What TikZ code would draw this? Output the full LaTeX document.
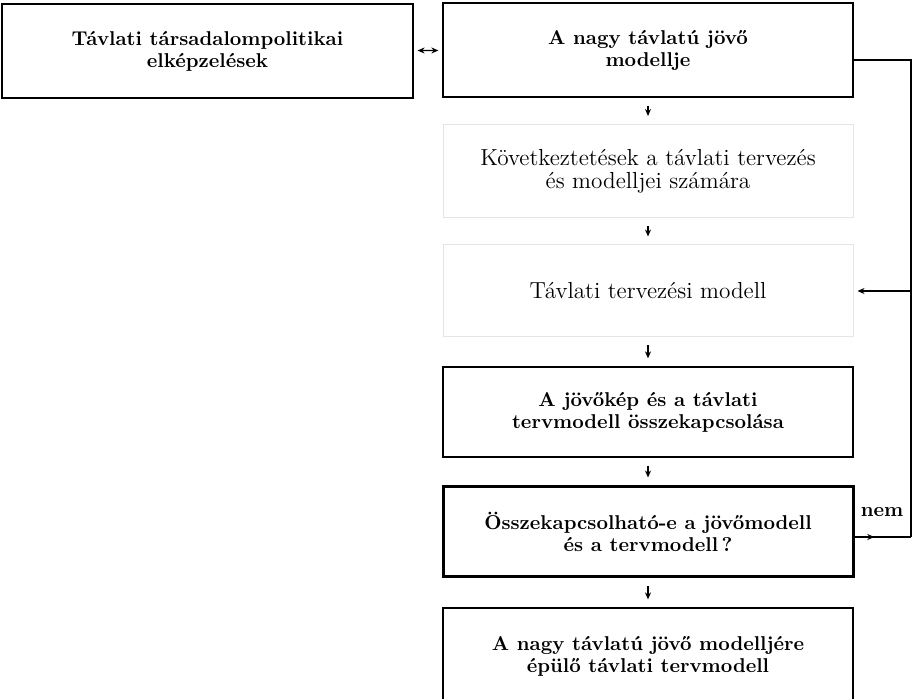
\documentclass[tikz,border=0pt]{standalone}
\usepackage{fontspec}
\usetikzlibrary{arrows.meta,decorations.markings}
\begin{document}
\begin{tikzpicture}[x=0.5pt,y=-0.5pt,
  box/.style={draw=black,line width=0.6pt,minimum width=205pt,inner sep=0pt,
    align=center,font=\fontsize{10}{11}\selectfont\bfseries},
  faintbox/.style={draw=black!10,line width=0.5pt,minimum width=205pt,inner sep=0pt,
    align=center,font=\fontsize{11.6}{11.5}\selectfont},
  decbox/.style={box,line width=1.5pt},
  line/.style={draw=black,line width=0.6pt},
  arr/.style={line,-{Stealth[length=3.5pt,width=3pt]},shorten <=4pt,shorten >=4pt},
  darr/.style={line,{Stealth[length=3.5pt,width=3pt]}-{Stealth[length=3.5pt,width=3pt]},shorten <=2pt,shorten >=2pt},
  lab/.style={font=\fontsize{10}{11}\selectfont\bfseries,inner sep=0pt}
]
\useasboundingbox (0,0) rectangle (916,699);

\node[box,minimum width=205.5pt,minimum height=47pt] (b0) at (207.5,51)
  {Távlati társadalompolitikai\\elképzelések};
\node[box,minimum height=47pt] (b1) at (648,50)
  {A nagy távlatú jövő\\modellje};
\node[faintbox,minimum height=46.5pt] (b2) at (648,171)
  {Következtetések a távlati tervezés\\és modelljei számára};
\node[faintbox,minimum height=46pt] (b3) at (648,291)
  {Távlati tervezési modell};
\node[box,minimum height=45pt] (b4) at (648,412)
  {A jövőkép és a távlati\\tervmodell összekapcsolása};
\node[decbox,minimum height=45pt] (dec) at (648,532)
  {Összekapcsolható-e a jövőmodell\\és a tervmodell\,?};
\node[box,minimum height=48pt] (b5) at (648,656)
  {A nagy távlatú jövő modelljére\\épülő távlati tervmodell};

\draw[darr] (b0) -- (b1);
\draw[arr] (b1) -- (b2);
\draw[arr] (b2) -- (b3);
\draw[arr] (b3) -- (b4);
\draw[arr] (b4) -- (dec);
\draw[arr] (dec) -- (b5);

\coordinate (fbtop) at (911,60);
\coordinate (fbbot) at (911,537);
\draw[line] (b1.east |- fbtop) -- (fbtop) -- (fbbot);
\draw[arr,shorten <=0pt,shorten >=2pt] (fbtop |- b3) -- (b3.east);
\draw[line,postaction={decorate},decoration={markings,
  mark=at position 0.35 with {\arrow{Stealth[length=3.5pt,width=3pt]}}}]
  (dec.east |- fbbot) -- (fbbot);
\node[lab] (nem) at (882,512) {nem};
\end{tikzpicture}
\end{document}
